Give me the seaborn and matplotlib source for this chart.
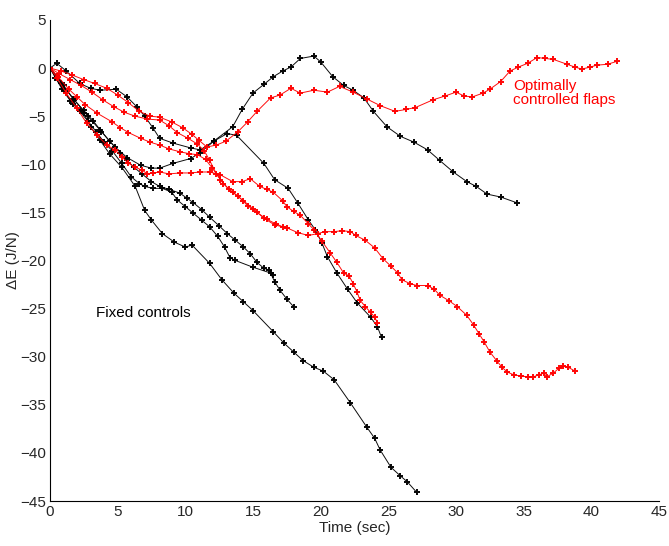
import matplotlib
matplotlib.use('Agg')
import matplotlib.pyplot as plt
import numpy as np
import pandas as pd
import seaborn as sns

# fixed-control runs (black)
b1_t = [0, 0.8, 1.8, 2.8, 3.8, 4.8, 5.7, 6.7, 7.5, 8.1, 9.1, 10.4, 11.1, 12.1, 13.5, 14.2, 15.0, 15.8,
        16.5, 17.2, 17.8, 18.5, 19.5, 20.0, 20.9, 21.7, 22.4, 23.2, 23.9, 24.9, 25.9, 26.9, 27.9, 28.8,
        29.8, 30.8, 31.5, 32.3, 33.3, 34.5]
b1_e = [0, -1.5, -3.3, -5.0, -6.6, -8.2, -9.3, -10.1, -10.4, -10.4, -9.9, -9.4, -8.8, -7.6, -6.1, -4.3,
        -2.6, -1.7, -0.9, -0.3, 0.1, 1.0, 1.25, 0.65, -0.9, -1.8, -2.3, -3.1, -4.5, -6.1, -7.1, -7.7, -8.5,
        -9.6, -10.8, -11.8, -12.3, -13.1, -13.4, -14.0]
b2_t = [0, 0.5, 1.2, 2.2, 3.0, 3.7, 4.9, 5.7, 6.4, 7.0, 7.6, 8.1, 9.1, 10.4, 11.1, 12.1, 13.1, 13.8,
        15.8, 16.6, 17.6, 18.3, 19.1, 19.6, 20.1, 20.5, 21.2, 22.0, 22.7, 23.7, 24.2, 24.5]
b2_e = [0, 0.5, -0.3, -1.6, -2.1, -2.3, -2.2, -3.0, -4.0, -5.0, -6.2, -7.3, -7.8, -8.3, -8.5, -7.6, -6.8,
        -7.0, -9.9, -11.6, -12.5, -14.0, -15.8, -16.8, -18.2, -19.6, -21.3, -23.0, -24.4, -25.9, -26.9, -28.0]
b3_t = [0, 1.0, 1.7, 2.5, 3.0, 3.7, 4.4, 5.3, 6.3, 7.0, 7.5, 8.3, 9.2, 10.0, 10.5, 11.8, 12.7, 13.6,
        14.3, 15.0, 16.5, 17.3, 18.0, 18.7, 19.5, 20.2, 21.0, 22.2, 23.4, 24.0, 24.4, 25.2, 25.9, 26.4, 27.1]
b3_e = [0, -2.3, -3.7, -4.7, -6.1, -7.5, -8.9, -10.3, -12.3, -14.8, -15.8, -17.2, -18.1, -18.6, -18.4,
        -20.3, -22.0, -23.4, -24.3, -25.2, -27.4, -28.6, -29.5, -30.4, -31.1, -31.5, -32.4, -34.8, -37.3,
        -38.5, -39.7, -41.5, -42.4, -43.0, -44.1]
b4_t = [0, 0.4, 0.9, 1.5, 2.2, 2.8, 3.4, 4.0, 4.6, 5.3, 6.0, 6.6, 7.0, 7.6, 8.3, 9.0, 9.4, 10.0, 10.6,
        11.2, 11.8, 12.4, 12.9, 13.3, 13.7, 15.0, 16.3, 16.6, 17.0, 17.5, 18.0]
b4_e = [0, -1.0, -2.2, -3.4, -4.5, -5.5, -6.6, -7.7, -8.6, -9.9, -11.3, -12.0, -12.3, -12.5, -12.5,
        -12.9, -13.7, -14.4, -15.1, -15.8, -16.5, -17.5, -18.6, -19.7, -20.0, -20.7, -21.3, -22.2, -23.1,
        -24.0, -24.8]
b5_t = [0, 0.5, 1.0, 1.7, 2.5, 3.2, 3.7, 4.4, 5.2, 5.7, 6.2, 6.8, 7.5, 8.1, 8.8, 9.6, 10.1, 10.6, 11.2,
        11.8, 12.5, 13.1, 13.7, 14.3, 14.8, 15.3, 15.8, 16.2, 16.5]
b5_e = [0, -0.8, -1.8, -3.2, -4.4, -5.5, -6.4, -7.6, -8.8, -9.6, -10.3, -11.0, -11.8, -12.3, -12.6,
        -13.0, -13.5, -14.0, -14.7, -15.5, -16.4, -17.2, -17.9, -18.6, -19.3, -20.2, -20.8, -21.0, -21.5]

# optimally controlled flaps (red)
ra_t = [0, 0.8, 1.6, 2.5, 3.3, 4.2, 5.0, 5.8, 6.6, 7.4, 8.1, 9.0, 9.8, 10.5, 11.0, 11.6, 12.3, 13.0,
        13.9, 14.6, 15.3, 16.3, 17.0, 17.8, 18.5, 19.5, 20.5, 21.4, 22.4, 23.4, 24.4, 25.5, 26.3, 27.0,
        28.3, 29.2, 30.0, 30.6, 31.2, 32.0, 32.5, 33.3, 34.0, 34.6, 35.3, 36.0, 36.6, 37.2, 38.2, 38.8,
        39.3, 39.9, 40.4, 41.2, 41.9]
ra_e = [0, -0.3, -0.7, -1.2, -1.6, -2.1, -2.8, -3.6, -4.5, -5.0, -5.1, -5.6, -6.2, -6.9, -7.5, -8.2,
        -8.0, -7.6, -6.6, -5.6, -4.5, -3.1, -2.8, -2.1, -2.6, -2.3, -2.5, -1.9, -2.5, -3.2, -3.9, -4.5,
        -4.3, -4.1, -3.3, -2.9, -2.5, -2.9, -3.0, -2.6, -2.2, -1.4, -0.3, 0.1, 0.5, 1.1, 1.0, 0.9, 0.4,
        0.1, -0.1, 0.1, 0.3, 0.4, 0.7]
rb_t = [0, 0.7, 1.5, 2.3, 3.1, 3.9, 4.7, 5.5, 6.3, 7.2, 8.1, 8.8, 9.4, 10.2, 10.9, 11.4, 11.8, 12.3,
        12.8, 13.5, 14.3, 15.0, 15.8, 16.6, 17.5, 18.3, 19.1, 19.8, 20.3, 21.0, 21.6, 22.2, 22.6, 23.3,
        24.0, 24.6, 25.2, 25.7, 26.0, 26.6, 27.1, 27.9, 28.4, 28.8, 29.5, 30.1, 30.8, 31.3, 31.7, 32.1,
        32.5, 33.0, 33.4, 33.8, 34.3, 34.8, 35.3, 35.7, 36.1, 36.5, 36.7, 37.2, 37.6, 37.9, 38.3, 38.8]
rb_e = [0, -0.6, -1.2, -1.8, -2.5, -3.3, -4.0, -4.6, -5.0, -5.3, -5.4, -6.0, -6.7, -7.3, -7.9, -8.6,
        -9.6, -11.0, -12.0, -12.9, -13.8, -14.6, -15.6, -16.3, -16.6, -17.1, -17.4, -17.2, -17.0, -17.0,
        -16.9, -17.0, -17.4, -17.9, -18.7, -19.8, -20.6, -21.3, -22.0, -22.4, -22.6, -22.6, -23.0, -23.6,
        -24.2, -24.8, -25.7, -26.7, -27.6, -28.5, -29.5, -30.4, -31.1, -31.6, -31.9, -32.0, -32.1, -32.1,
        -31.9, -31.7, -32.1, -31.7, -31.2, -31.0, -31.1, -31.5]
rc_t = [0, 0.5, 1.2, 2.0, 2.7, 3.5, 4.2, 4.8, 5.3, 5.8, 6.3, 6.8, 7.2, 7.6, 8.1, 8.8, 9.6, 10.4, 11.1,
        11.8, 12.6, 13.5, 14.2, 14.8, 15.5, 16.0, 16.5, 17.2, 17.5, 18.0, 18.5, 19.1, 19.5, 20.1, 20.7,
        21.2, 21.7, 22.1, 22.4, 22.7, 22.9, 23.3, 23.7, 24.0, 24.2]
rc_e = [0, -1.0, -2.6, -4.2, -5.7, -7.0, -8.0, -8.5, -9.2, -9.9, -10.3, -10.6, -11.0, -10.9, -10.8,
        -11.0, -10.9, -10.9, -10.8, -10.8, -11.1, -11.8, -11.8, -11.5, -12.3, -12.6, -12.9, -13.8, -14.4,
        -14.9, -15.3, -16.2, -16.8, -18.0, -19.2, -20.2, -21.3, -21.6, -22.4, -23.3, -24.1, -24.8, -25.4,
        -25.9, -26.5]
rd_t = [0, 0.6, 1.4, 2.0, 2.6, 3.5, 4.6, 5.2, 5.8, 6.7, 7.4, 8.1, 8.8, 9.6, 10.3, 10.9, 11.5, 12.0,
        12.6, 13.2, 13.9, 14.6, 15.3, 16.0, 16.7, 17.2]
rd_e = [0, -0.9, -2.2, -3.0, -3.8, -4.7, -5.6, -6.2, -6.7, -7.3, -7.7, -8.0, -8.4, -8.7, -8.9, -9.0,
        -9.5, -10.4, -11.6, -12.6, -13.3, -14.3, -15.0, -15.7, -16.2, -16.5]

runs = [('b1', b1_t, b1_e), ('b2', b2_t, b2_e), ('b3', b3_t, b3_e), ('b4', b4_t, b4_e),
        ('b5', b5_t, b5_e), ('ra', ra_t, ra_e), ('rb', rb_t, rb_e), ('rc', rc_t, rc_e),
        ('rd', rd_t, rd_e)]
df = pd.concat([pd.DataFrame({'run': name, 't': t, 'dE': e}) for name, t, e in runs],
               ignore_index=True)
palette = {name: ('black' if name.startswith('b') else '#ff0000') for name, _, _ in runs}

sns.set_style('white')
plt.rcParams['font.family'] = ['Liberation Sans', 'DejaVu Sans']

fig = plt.figure(figsize=(6.69, 5.46), dpi=100)
ax = fig.add_axes([0.0747, 0.0824, 0.9103, 0.881])

sns.lineplot(data=df, x='t', y='dE', hue='run', palette=palette, units='run', estimator=None,
             sort=False, legend=False, ax=ax, linewidth=0.7, marker='P', markersize=5,
             markeredgewidth=0, alpha=0.95)

ax.text(34.2, -1.1, 'Optimally\ncontrolled flaps', color='#ff0000', fontsize=11,
        ha='left', va='top', linespacing=1.05)
ax.text(3.4, -25.5, 'Fixed controls', color='black', fontsize=11, ha='left', va='center')

ax.set_xlim(0, 45)
ax.set_ylim(-45, 5)
ax.set_xticks(np.arange(0, 46, 5))
ax.set_yticks(np.arange(-45, 6, 5))
ax.set_xlabel('Time (sec)', fontsize=11, labelpad=1)
ax.set_ylabel('\u0394E (J/N)', fontsize=11, labelpad=0)
ax.tick_params(direction='in', length=5, width=0.8, labelsize=11, pad=3)
sns.despine(ax=ax)
for s in ['left', 'bottom']:
    ax.spines[s].set_linewidth(0.8)
    ax.spines[s].set_color('black')

fig.savefig('out.png', dpi=100)
